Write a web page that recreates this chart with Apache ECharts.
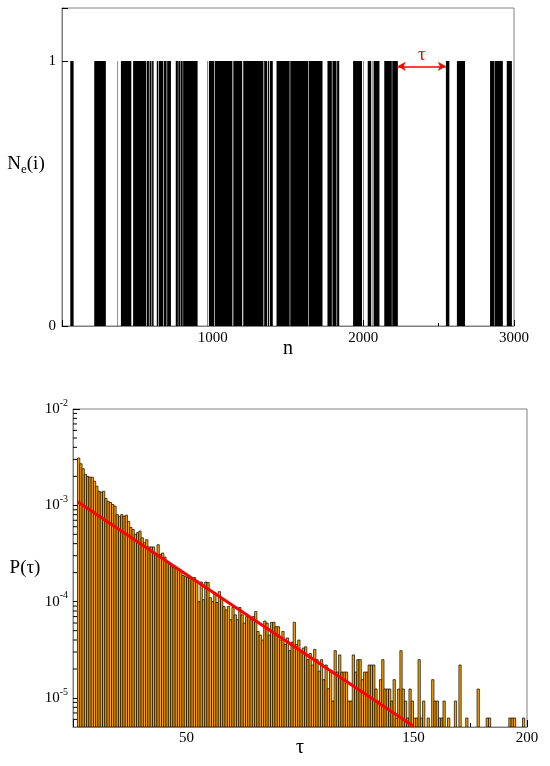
<!DOCTYPE html>
<html>
<head>
<meta charset="utf-8">
<title>N_e(i) / P(τ)</title>
<script src="https://cdn.jsdelivr.net/npm/echarts@6/dist/echarts.min.js"></script>
<style>
  html, body { margin: 0; padding: 0; background: #fff; }
  #chart { width: 550px; height: 766px; }
</style>
</head>
<body>
<div id="chart"></div>
<script>
// 上圖: N_e(i)=1 的區段 [起, 迄]
const eventRuns = [
  [55, 76], [214, 290], [369, 371], [391, 459],
  [472, 558], [563, 576], [581, 593], [598, 607],
  [629, 638], [643, 671], [676, 693], [698, 722],
  [755, 768], [772, 783], [787, 800], [804, 899],
  [963, 965], [975, 1009], [1014, 1130], [1137, 1195], [1203, 1336],
  [1342, 1360], [1366, 1374], [1380, 1398],
  [1424, 1510], [1515, 1632], [1637, 1728],
  [1762, 1790], [1795, 1821], [1826, 1839],
  [1932, 1990], [2001, 2003],
  [2029, 2051], [2057, 2059], [2068, 2106], [2139, 2188], [2192, 2228],
  [2548, 2570], [2621, 2674], [2841, 2870], [2874, 2925], [2952, 2985]
];
// 箭頭標示的等待時間 τ
const gapStart = 2228;
const gapEnd = 2548;
const arrowLevel = 0.98;

// 下圖: P(τ) 直方圖, 由 τ = tauStart 起每格寬 1
const tauStart = 2;
const tauProb = [
  3.1e-3, 2.7e-3, 2.4e-3, 2.1e-3, 2.0e-3, 1.96e-3, 1.96e-3, 1.78e-3, 1.58e-3, 1.40e-3,
  1.37e-3, 1.40e-3, 1.18e-3, 1.10e-3, 1.07e-3, 1.02e-3, 9.8e-4, 8.0e-4, 7.7e-4, 8.0e-4,
  7.7e-4, 7.9e-4, 6.8e-4, 5.9e-4, 5.6e-4, 5.0e-4, 5.2e-4, 5.4e-4, 4.6e-4, 4.1e-4,
  4.4e-4, 3.7e-4, 3.7e-4, 3.7e-4, 3.1e-4, 3.9e-4, 3.1e-4, 3.2e-4, 2.9e-4, 2.6e-4,
  2.5e-4, 2.3e-4, 2.26e-4, 2.26e-4, 2.15e-4, 2.05e-4, 1.87e-4, 1.82e-4, 1.78e-4, 1.75e-4,
  1.7e-4, 1.78e-4, 1.65e-4, 1.0e-4, 1.6e-4, 1.05e-4, 1.6e-4, 1.58e-4, 1.10e-4, 1.0e-4,
  1.25e-4, 9.8e-5, 1.27e-4, 1.10e-4, 8.9e-5, 8.2e-5, 8.9e-5, 6.5e-5, 8.7e-5, 7.3e-5,
  6.5e-5, 8.7e-5, 7.3e-5, 6.0e-5, 7.0e-5, 7.0e-5, 6.5e-5, 7.0e-5, 7.9e-5, 4.9e-5,
  4.5e-5, 4.0e-5, 6.3e-5, 6.0e-5, 4.5e-5, 6.1e-5, 6.1e-5, 5.5e-5, 5.5e-5, 4.0e-5,
  4.9e-5, 3.6e-5, 4.2e-5, 3.1e-5, 3.8e-5, 6.1e-5, 3.6e-5, 4.0e-5, 3.0e-5, 3.3e-5,
  3.4e-5, 2.5e-5, 2.9e-5, 2.2e-5, 3.2e-5, 2.5e-5, 1.9e-5, 2.5e-5, 1.55e-5, 2.2e-5,
  1.25e-5, 1.86e-5, 9.3e-6, 3.1e-5, 1.86e-5, 2.8e-5, 1.86e-5, 1.86e-5, 1.86e-5, 9.3e-6,
  9.3e-6, 2.8e-5, 1.86e-5, 2.5e-5, 2.5e-5, 1.55e-5, 1.86e-5, 1.86e-5, 2.2e-5, 2.2e-5,
  2.2e-5, 1.24e-5, 9.3e-6, 1.55e-5, 2.5e-5, 1.24e-5, 1.24e-5, 1.24e-5, 9.3e-6, 1.55e-5,
  6.2e-6, 1.24e-5, 3.1e-5, 1.24e-5, 9.3e-6, 6.2e-6, 1.24e-5, 9.3e-6, 6.2e-6, 6.2e-6,
  2.5e-5, 6.2e-6, 9.3e-6, null, 6.2e-6, null, 1.55e-5, 9.3e-6, 9.3e-6, 6.2e-6,
  6.2e-6, 9.3e-6, null, 6.2e-6, null, null, 9.3e-6, null, 2.2e-5, null,
  null, 6.2e-6, null, null, null, null, 1.24e-5, null, null, null,
  6.2e-6, 6.2e-6, null, null, null, null, null, null, null, null,
  6.2e-6, 6.2e-6, 6.2e-6, null, null, null, 6.2e-6
];
// 指數擬合直線的兩端
const fitTau = [2, 150];
const fitProb = [1.09e-3, 5.1e-6];
// 對數軸範圍與次刻度
const probMin = 5e-6;
const probMax = 1e-2;
const minorLogTicks = [
  6e-6, 7e-6, 8e-6, 9e-6,
  2e-5, 3e-5, 4e-5, 5e-5, 6e-5, 7e-5, 8e-5, 9e-5,
  2e-4, 3e-4, 4e-4, 5e-4, 6e-4, 7e-4, 8e-4, 9e-4,
  2e-3, 3e-3, 4e-3, 5e-3, 6e-3, 7e-3, 8e-3, 9e-3
];
// 下圖 x 軸只標這些數字 (100 的位置放 τ)
const tauTickLabels = [50, 150, 200];

const FONT = "'Liberation Serif', 'DejaVu Serif', serif";
const frame = '#808080';

const histData = tauProb
  .map((p, i) => [tauStart + i, p])
  .filter((d) => d[1] != null);

const chart = echarts.init(document.getElementById('chart'), null, { renderer: 'canvas' });

const tickLabel = { color: '#000', fontFamily: FONT, fontSize: 15 };

chart.setOption({
  animation: false,
  backgroundColor: '#fff',
  grid: [
    { left: 62, right: 36, top: 8, bottom: 440, show: true, borderColor: frame, borderWidth: 1 },
    { left: 73, right: 23, top: 409, bottom: 39, show: true, borderColor: frame, borderWidth: 1 }
  ],
  xAxis: [
    {
      gridIndex: 0, type: 'value', min: 0, max: 3000, interval: 1000,
      axisLine: { lineStyle: { color: frame } },
      axisTick: { inside: true, length: 6, lineStyle: { color: '#000' } },
      minorTick: { show: true, splitNumber: 2, length: 3, lineStyle: { color: '#000' } },
      splitLine: { show: false },
      axisLabel: Object.assign({ margin: 5, formatter: (v) => (v === 0 ? '' : String(v)) }, tickLabel)
    },
    {
      gridIndex: 1, type: 'value', min: 0, max: 200, interval: 50,
      axisLine: { lineStyle: { color: frame } },
      axisTick: { inside: true, length: 7, lineStyle: { color: '#000' } },
      minorTick: { show: true, splitNumber: 2, length: 4, lineStyle: { color: '#000' } },
      splitLine: { show: false },
      axisLabel: Object.assign({
        margin: 4,
        formatter: (v) => (tauTickLabels.indexOf(v) >= 0 ? String(v) : '')
      }, tickLabel)
    }
  ],
  yAxis: [
    {
      gridIndex: 0, type: 'value', min: 0, max: 1.2, interval: 1,
      axisLine: { lineStyle: { color: frame } },
      axisTick: { inside: true, length: 6, lineStyle: { color: '#000' } },
      splitLine: { show: false },
      axisLabel: Object.assign({
        margin: 6,
        formatter: (v) => (v === 0 || v === 1 ? String(v) : '')
      }, tickLabel)
    },
    {
      gridIndex: 1, type: 'log', logBase: 10, min: probMin, max: probMax,
      axisLine: { lineStyle: { color: frame } },
      axisTick: { inside: true, length: 7, lineStyle: { color: '#000' } },
      splitLine: { show: false },
      axisLabel: {
        margin: 5,
        showMinLabel: false,
        formatter(v) {
          const e = Math.log10(v);
          if (Math.abs(e - Math.round(e)) > 1e-6) return '';
          return '{b|10}{s|' + Math.round(e) + '}';
        },
        rich: {
          b: { color: '#000', fontFamily: FONT, fontSize: 15, lineHeight: 22 },
          s: { color: '#000', fontFamily: FONT, fontSize: 10, lineHeight: 12, verticalAlign: 'top' }
        }
      }
    }
  ],
  series: [
    {
      // 上圖事件序列
      type: 'custom',
      xAxisIndex: 0, yAxisIndex: 0,
      clip: true,
      data: eventRuns,
      renderItem(params, api) {
        const p0 = api.coord([api.value(0), 1]);
        const p1 = api.coord([api.value(1) + 1, 0]);
        return {
          type: 'rect',
          shape: { x: p0[0], y: p0[1], width: p1[0] - p0[0], height: p1[1] - p0[1] },
          style: { fill: '#000' }
        };
      },
      markLine: {
        silent: true,
        symbol: ['arrow', 'arrow'],
        symbolSize: [7, 8],
        lineStyle: { color: '#ff0000', type: 'solid', width: 1.5 },
        label: {
          show: true, position: 'middle', formatter: 'τ', distance: 2,
          color: '#ff0000', fontFamily: FONT, fontSize: 19
        },
        data: [[{ coord: [gapStart, arrowLevel] }, { coord: [gapEnd, arrowLevel] }]]
      }
    },
    {
      // 下圖直方圖
      type: 'custom',
      xAxisIndex: 1, yAxisIndex: 1,
      clip: true,
      data: histData,
      renderItem(params, api) {
        const p0 = api.coord([api.value(0), api.value(1)]);
        const p1 = api.coord([api.value(0) + 1, probMin]);
        return {
          type: 'rect',
          shape: { x: p0[0], y: p0[1], width: p1[0] - p0[0], height: p1[1] - p0[1] },
          style: { fill: '#ffa500', stroke: '#000', lineWidth: 0.7 }
        };
      }
    },
    {
      // 對數軸次刻度
      type: 'custom',
      xAxisIndex: 1, yAxisIndex: 1,
      data: minorLogTicks.map((v) => [0, v]),
      z: 5,
      renderItem(params, api) {
        const p = api.coord([0, api.value(1)]);
        return {
          type: 'line',
          shape: { x1: p[0], y1: p[1], x2: p[0] + 4, y2: p[1] },
          style: { stroke: '#000', lineWidth: 1 }
        };
      }
    },
    {
      // 擬合線
      type: 'line',
      xAxisIndex: 1, yAxisIndex: 1,
      data: fitTau.map((t, i) => [t, fitProb[i]]),
      symbol: 'none',
      z: 6,
      lineStyle: { color: '#ff0000', width: 3 }
    }
  ],
  graphic: [
    {
      type: 'text', x: 26, y: 164,
      style: {
        text: '{n|N}{e|e}{n|(i)}',
        align: 'center', verticalAlign: 'middle',
        rich: {
          n: { fill: '#000', fontFamily: FONT, fontSize: 19, lineHeight: 24 },
          e: { fill: '#000', fontFamily: FONT, fontSize: 13, lineHeight: 13, verticalAlign: 'bottom' }
        }
      }
    },
    {
      type: 'text', x: 288, y: 349,
      style: { text: 'n', fill: '#000', fontFamily: FONT, fontSize: 20, align: 'center', verticalAlign: 'middle' }
    },
    {
      type: 'text', x: 25, y: 568,
      style: { text: 'P(τ)', fill: '#000', fontFamily: FONT, fontSize: 19, align: 'center', verticalAlign: 'middle' }
    },
    {
      type: 'text', x: 300, y: 748,
      style: { text: 'τ', fill: '#000', fontFamily: FONT, fontSize: 20, align: 'center', verticalAlign: 'middle' }
    }
  ]
});
</script>
</body>
</html>
